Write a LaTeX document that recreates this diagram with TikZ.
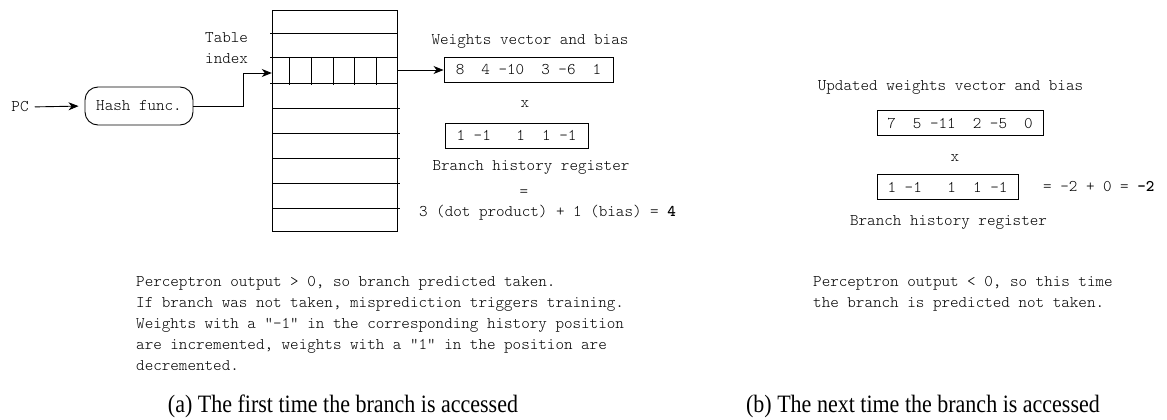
\documentclass[tikz,border=0pt]{standalone}
\usepackage{fontspec}
\setmainfont{Liberation Serif}
\newfontfamily\mono{Latin Modern Mono Light}
\newfontfamily\capfont[FakeStretch=0.88]{Liberation Serif}
\usetikzlibrary{arrows.meta}

\begin{document}
\begin{tikzpicture}[x=1pt, y=-1pt,
  txt/.style={font=\mono\fontsize{16.3}{21}\selectfont, inner sep=0pt, text=black},
  vecbox/.style={draw, line width=0.9pt, minimum height=25pt, inner sep=0pt,
    font=\mono\fontsize{16.3}{21}\selectfont, text=black},
  arr/.style={-{Stealth[length=10pt,width=8pt,inset=3pt]}, line width=0.9pt},
  grid/.style={line width=0.9pt},
  capt/.style={font=\capfont\fontsize{25}{28}\selectfont, inner sep=0pt, anchor=base}
]
\useasboundingbox (0,0) rectangle (1167,420);

% ---------------- (a) first access ----------------
\node[txt] (pc) at (20,107) {PC};
\node[draw, line width=0.9pt, rounded corners=13pt, minimum width=108pt,
  minimum height=38pt, inner sep=0pt, font=\mono\fontsize{16.3}{21}\selectfont,
  text=black] (hash) at (139,106) {Hash func.};
\draw[arr, shorten <=6pt, shorten >=6pt] (pc.east) -- (hash.west);

% perceptron table
\draw[grid] (272,10) rectangle (397,231);
\foreach \yy in {33,57,83} \draw[grid] (270,\yy) -- (397,\yy);
\foreach \yy in {108,133,158,183,208} \draw[grid] (272,\yy) -- (400,\yy);
\foreach \xx in {289,311,333,354,376} \draw[grid] (\xx,57) -- (\xx,85);
\node[minimum width=125pt, minimum height=26pt, inner sep=0pt] (idx) at (334.5,70) {};

\node[txt, align=left, anchor=north west] (tlabel) at (205,32) {Table\\index};
\coordinate (bend) at (243,73);
\draw[arr] (hash.east) -- (bend |- hash.east) -- (bend) -- (bend -| idx.west);

% weights and history
\node[vecbox, minimum width=169pt] (w) at (528.5,70) {8~~4~-10~~3~-6~~1};
\draw[arr] ([xshift=1pt]idx.east |- w.west) -- (w.west);
\node[txt] (wlabel) at (530,41) {Weights vector and bias};
\node[txt] (times) at (525,104) {x};
\node[vecbox, minimum width=143pt] (h) at (516.5,135.5) {1~-1~~~1~~1~-1};
\node[txt] (hlabel) at (531,167) {Branch history register};
\node[txt] (eq) at (524,193) {=};
\node[txt] (dot) at (547.5,213) {3 (dot product) + 1 (bias) = \textbf{4}};

\node[txt, align=left, anchor=north west] (notea) at (136,276) {%
Perceptron output > 0, so branch predicted taken.\\
If branch was not taken, misprediction triggers training.\\
Weights with a “-1” in the corresponding history position\\
are incremented, weights with a “1” in the position are\\
decremented.};

\node[capt] (capa) at (343,412) {(a) The first time the branch is accessed};

% ---------------- (b) next access ----------------
\node[txt] (w2label) at (950.5,87) {Updated weights vector and bias};
\node[vecbox, minimum width=166pt] (w2) at (960,123) {7~~5~-11~~2~-5~~0};
\node[txt] (times2) at (955,158) {x};
\node[vecbox, minimum width=141pt] (h2) at (947.5,187) {1~-1~~~1~~1~-1};
\node[txt, anchor=west] (res2) at (1043,187) {=~-2~+~0~=~\textbf{-2}};
\node[txt] (h2label) at (948.5,222) {Branch history register};

\node[txt, align=left, anchor=north west] (noteb) at (813,276) {%
Perceptron output < 0, so this time\\
the branch is predicted not taken.};

\node[capt] (capb) at (923,412) {(b) The next time the branch is accessed};
\end{tikzpicture}
\end{document}
